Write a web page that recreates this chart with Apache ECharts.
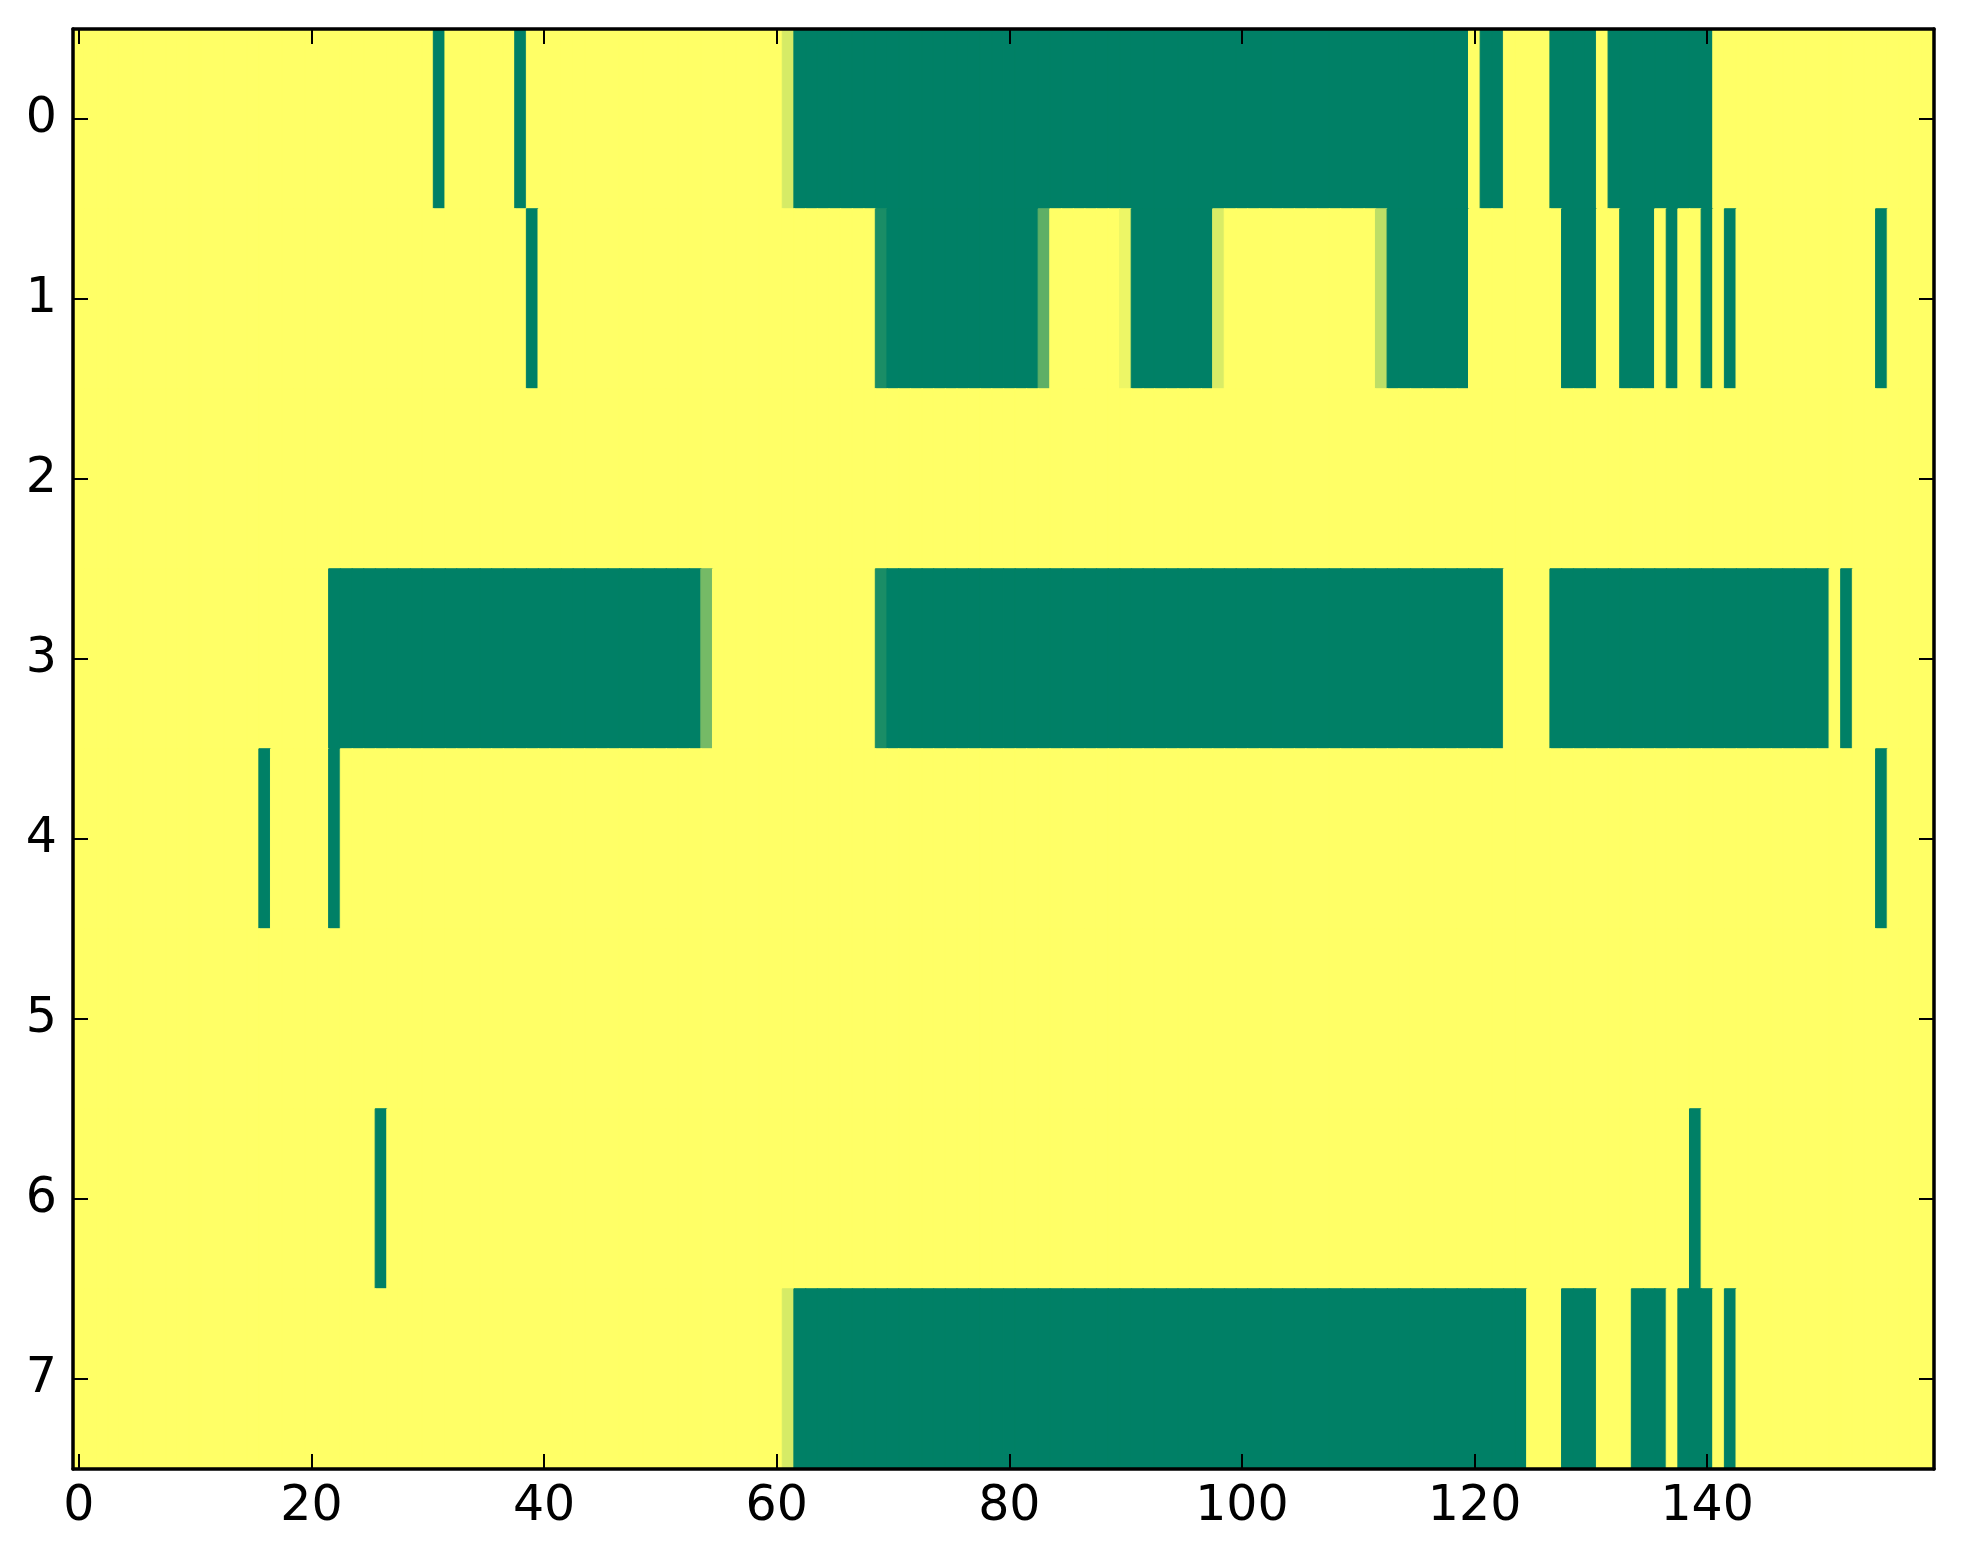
<!DOCTYPE html>
<html>
<head>
<meta charset="utf-8">
<script src="https://cdn.jsdelivr.net/npm/echarts@6/dist/echarts.min.js"></script>
<style>
html,body{margin:0;padding:0;background:#fff;}
#chart{width:1963px;height:1564px;}
</style>
</head>
<body>
<div id="chart"></div>
<script>
// column indices 0..159, row indices 0..7
var xCategories = [];
for (var c = 0; c < 160; c++) xCategories.push(String(c));
var yCategories = ['0','1','2','3','4','5','6','7'];
var xTickStep = 20;

var row0 = [
 0,0,0,0,0,0,0,0,0,0,0,0,0,0,0,0,0,0,0,0,
 0,0,0,0,0,0,0,0,0,0,0,1,0,0,0,0,0,0,1,0,
 0,0,0,0,0,0,0,0,0,0,0,0,0,0,0,0,0,0,0,0,
 0,0.16,1,1,1,1,1,1,1,1,1,1,1,1,1,1,1,1,1,1,
 1,1,1,1,1,1,1,1,1,1,1,1,1,1,1,1,1,1,1,1,
 1,1,1,1,1,1,1,1,1,1,1,1,1,1,1,1,1,1,1,1,
 0,1,1,0,0,0,0,1,1,1,1,0,1,1,1,1,1,1,1,1,
 1,0,0,0,0,0,0,0,0,0,0,0,0,0,0,0,0,0,0,0
];
var row1 = [
 0,0,0,0,0,0,0,0,0,0,0,0,0,0,0,0,0,0,0,0,
 0,0,0,0,0,0,0,0,0,0,0,0,0,0,0,0,0,0,0,1,
 0,0,0,0,0,0,0,0,0,0,0,0,0,0,0,0,0,0,0,0,
 0,0,0,0,0,0,0,0,0,0.9,1,1,1,1,1,1,1,1,1,1,
 1,1,1,0.63,0,0,0,0,0,0,0.07,1,1,1,1,1,1,1,0.15,0,
 0,0,0,0,0,0,0,0,0,0,0,0,0.26,1,1,1,1,1,1,1,
 0,0,0,0,0,0,0,0,1,1,1,0,0,1,1,1,0,1,0,0,
 1,0,1,0,0,0,0,0,0,0,0,0,0,0,0,1,0,0,0,0
];
var row2 = [
 0,0,0,0,0,0,0,0,0,0,0,0,0,0,0,0,0,0,0,0,
 0,0,0,0,0,0,0,0,0,0,0,0,0,0,0,0,0,0,0,0,
 0,0,0,0,0,0,0,0,0,0,0,0,0,0,0,0,0,0,0,0,
 0,0,0,0,0,0,0,0,0,0,0,0,0,0,0,0,0,0,0,0,
 0,0,0,0,0,0,0,0,0,0,0,0,0,0,0,0,0,0,0,0,
 0,0,0,0,0,0,0,0,0,0,0,0,0,0,0,0,0,0,0,0,
 0,0,0,0,0,0,0,0,0,0,0,0,0,0,0,0,0,0,0,0,
 0,0,0,0,0,0,0,0,0,0,0,0,0,0,0,0,0,0,0,0
];
var row3 = [
 0,0,0,0,0,0,0,0,0,0,0,0,0,0,0,0,0,0,0,0,
 0,0,1,1,1,1,1,1,1,1,1,1,1,1,1,1,1,1,1,1,
 1,1,1,1,1,1,1,1,1,1,1,1,1,1,0.54,0,0,0,0,0,
 0,0,0,0,0,0,0,0,0,0.9,1,1,1,1,1,1,1,1,1,1,
 1,1,1,1,1,1,1,1,1,1,1,1,1,1,1,1,1,1,1,1,
 1,1,1,1,1,1,1,1,1,1,1,1,1,1,1,1,1,1,1,1,
 1,1,1,0,0,0,0,1,1,1,1,1,1,1,1,1,1,1,1,1,
 1,1,1,1,1,1,1,1,1,1,1,0,1,0,0,0,0,0,0,0
];
var row4 = [
 0,0,0,0,0,0,0,0,0,0,0,0,0,0,0,0,1,0,0,0,
 0,0,1,0,0,0,0,0,0,0,0,0,0,0,0,0,0,0,0,0,
 0,0,0,0,0,0,0,0,0,0,0,0,0,0,0,0,0,0,0,0,
 0,0,0,0,0,0,0,0,0,0,0,0,0,0,0,0,0,0,0,0,
 0,0,0,0,0,0,0,0,0,0,0,0,0,0,0,0,0,0,0,0,
 0,0,0,0,0,0,0,0,0,0,0,0,0,0,0,0,0,0,0,0,
 0,0,0,0,0,0,0,0,0,0,0,0,0,0,0,0,0,0,0,0,
 0,0,0,0,0,0,0,0,0,0,0,0,0,0,0,1,0,0,0,0
];
var row5 = [
 0,0,0,0,0,0,0,0,0,0,0,0,0,0,0,0,0,0,0,0,
 0,0,0,0,0,0,0,0,0,0,0,0,0,0,0,0,0,0,0,0,
 0,0,0,0,0,0,0,0,0,0,0,0,0,0,0,0,0,0,0,0,
 0,0,0,0,0,0,0,0,0,0,0,0,0,0,0,0,0,0,0,0,
 0,0,0,0,0,0,0,0,0,0,0,0,0,0,0,0,0,0,0,0,
 0,0,0,0,0,0,0,0,0,0,0,0,0,0,0,0,0,0,0,0,
 0,0,0,0,0,0,0,0,0,0,0,0,0,0,0,0,0,0,0,0,
 0,0,0,0,0,0,0,0,0,0,0,0,0,0,0,0,0,0,0,0
];
var row6 = [
 0,0,0,0,0,0,0,0,0,0,0,0,0,0,0,0,0,0,0,0,
 0,0,0,0,0,0,1,0,0,0,0,0,0,0,0,0,0,0,0,0,
 0,0,0,0,0,0,0,0,0,0,0,0,0,0,0,0,0,0,0,0,
 0,0,0,0,0,0,0,0,0,0,0,0,0,0,0,0,0,0,0,0,
 0,0,0,0,0,0,0,0,0,0,0,0,0,0,0,0,0,0,0,0,
 0,0,0,0,0,0,0,0,0,0,0,0,0,0,0,0,0,0,0,0,
 0,0,0,0,0,0,0,0,0,0,0,0,0,0,0,0,0,0,0,1,
 0,0,0,0,0,0,0,0,0,0,0,0,0,0,0,0,0,0,0,0
];
var row7 = [
 0,0,0,0,0,0,0,0,0,0,0,0,0,0,0,0,0,0,0,0,
 0,0,0,0,0,0,0,0,0,0,0,0,0,0,0,0,0,0,0,0,
 0,0,0,0,0,0,0,0,0,0,0,0,0,0,0,0,0,0,0,0,
 0,0.16,1,1,1,1,1,1,1,1,1,1,1,1,1,1,1,1,1,1,
 1,1,1,1,1,1,1,1,1,1,1,1,1,1,1,1,1,1,1,1,
 1,1,1,1,1,1,1,1,1,1,1,1,1,1,1,1,1,1,1,1,
 1,1,1,1,1,0,0,0,1,1,1,0,0,0,1,1,1,0,1,1,
 1,0,1,0,0,0,0,0,0,0,0,0,0,0,0,0,0,0,0,0
];
var rows = [row0,row1,row2,row3,row4,row5,row6,row7];

// summer_r colormap end points
var lowColor = [255, 255, 102];
var highColor = [0, 128, 102];
function cmap(v) {
  var c = [0, 1, 2].map(function (k) {
    return Math.round(lowColor[k] + (highColor[k] - lowColor[k]) * v);
  });
  return 'rgb(' + c.join(',') + ')';
}

var cells = [];
rows.forEach(function (r, yi) {
  r.forEach(function (v, xi) {
    cells.push({ value: [xi, yi, v], itemStyle: { borderColor: cmap(v), borderWidth: 1 } });
  });
});

var font = { fontFamily: 'DejaVu Sans', fontSize: 49, color: '#000' };
var lineStyle = { color: '#000', width: 3.5 };
var tickStyle = { color: '#000', width: 2 };
function xTickFn(i) { return i % xTickStep === 0; }

var chart = echarts.init(document.getElementById('chart'), null, { renderer: 'canvas' });
chart.setOption({
  animation: false,
  backgroundColor: '#fff',
  grid: { left: 73, right: 29, top: 29, bottom: 95, containLabel: false },
  visualMap: {
    show: false, type: 'continuous', min: 0, max: 1, dimension: 2,
    seriesIndex: 0,
    inRange: { color: ['#ffff66', '#008066'] }
  },
  xAxis: [
    {
      type: 'category', data: xCategories, position: 'bottom', boundaryGap: true, z: 10,
      axisLine: { show: true, lineStyle: lineStyle },
      axisTick: { show: true, inside: true, length: 15, alignWithLabel: true, interval: xTickFn, lineStyle: tickStyle },
      axisLabel: Object.assign({ show: true, interval: xTickFn, margin: 14 }, font),
      splitLine: { show: false }
    },
    {
      type: 'category', data: xCategories, position: 'top', boundaryGap: true, z: 10,
      axisLine: { show: true, lineStyle: lineStyle },
      axisTick: { show: true, inside: true, length: 15, alignWithLabel: true, interval: xTickFn, lineStyle: tickStyle },
      axisLabel: { show: false },
      splitLine: { show: false }
    }
  ],
  yAxis: [
    {
      type: 'category', data: yCategories, inverse: true, position: 'left', boundaryGap: true, z: 10,
      axisLine: { show: true, lineStyle: lineStyle },
      axisTick: { show: true, inside: true, length: 15, alignWithLabel: true, interval: 0, lineStyle: tickStyle },
      axisLabel: Object.assign({ show: true, interval: 0, margin: 16 }, font),
      splitLine: { show: false }
    },
    {
      type: 'category', data: yCategories, inverse: true, position: 'right', boundaryGap: true, z: 10,
      axisLine: { show: true, lineStyle: lineStyle },
      axisTick: { show: true, inside: true, length: 15, alignWithLabel: true, interval: 0, lineStyle: tickStyle },
      axisLabel: { show: false },
      splitLine: { show: false }
    }
  ],
  series: [{
    type: 'heatmap',
    xAxisIndex: 0, yAxisIndex: 0,
    data: cells,
    progressive: 0,
    emphasis: { disabled: true }
  }]
});
</script>
</body>
</html>
